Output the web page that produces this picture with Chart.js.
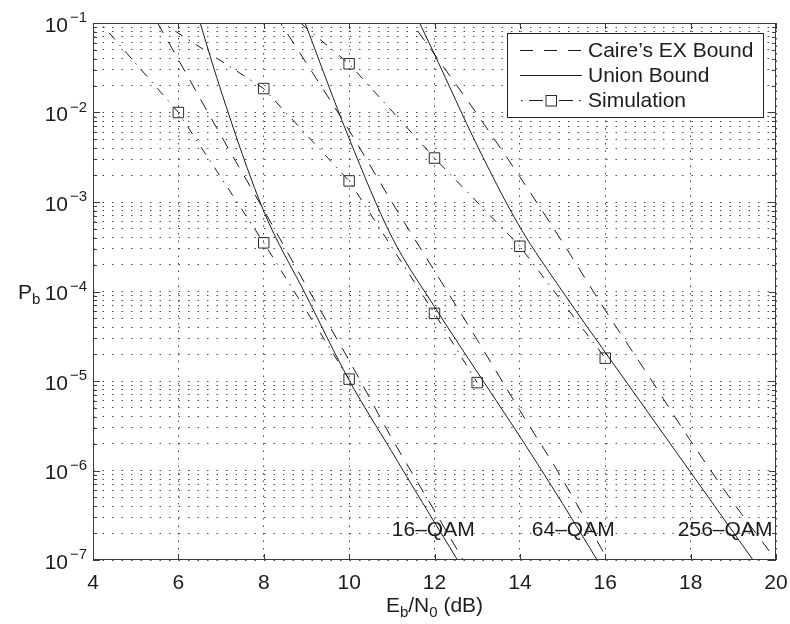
<!DOCTYPE html>
<html lang="en">
<head>
  <meta charset="UTF-8">
  <title>Pb vs Eb/N0</title>
  <script src="https://cdn.jsdelivr.net/npm/chart.js@4"></script>
  <style>
    html, body { margin: 0; padding: 0; background: #fff; overflow: hidden; }
    #wrap { width: 790px; height: 624px; }
  </style>
</head>
<body>
<div id="wrap"><canvas id="berChart"></canvas></div>
<script>
// values: Eb/N0 in dB, Pb
const snrCaire16 = [5, 6, 7, 8, 9, 10, 11, 12, 13];
const pbCaire16  = [0.269, 3.89e-2, 5.5e-3, 8.13e-4, 1.15e-4, 1.7e-5, 2.29e-6, 3.55e-7, 5.37e-8];
const snrUnion16 = [6.2, 7, 8, 9, 10, 11, 12, 13];
const pbUnion16  = [0.316, 1.74e-2, 7.9e-4, 8.9e-5, 1.02e-5, 1.62e-6, 2.63e-7, 4.4e-8];
const snrSim16   = [4, 6, 8, 10];
const pbSim16    = [0.125, 1.0e-2, 3.5e-4, 1.05e-5];

const snrCaire64 = [8, 9, 10, 11, 12, 13, 14, 15, 16, 17];
const pbCaire64  = [0.195, 3.55e-2, 6.31e-3, 1.0e-3, 1.7e-4, 2.88e-5, 4.68e-6, 7.94e-7, 1.12e-7, 1.58e-8];
const snrUnion64 = [8.5, 9, 10, 11, 12, 13, 14, 15, 16];
const pbUnion64  = [0.398, 9.12e-2, 5.13e-3, 4.07e-4, 6.76e-5, 1.26e-5, 2.4e-6, 4.27e-7, 7.08e-8];
const snrSim64   = [4, 8, 10, 12, 13];
const pbSim64    = [0.32, 1.85e-2, 1.72e-3, 5.7e-5, 9.6e-6];

const snrCaire256 = [11, 12, 13, 14, 15, 16, 17, 18, 19, 20];
const pbCaire256  = [0.204, 4.47e-2, 9.55e-3, 1.91e-3, 3.55e-4, 6.17e-5, 1.17e-5, 2.14e-6, 4.37e-7, 1.0e-7];
const snrUnion256 = [11, 12, 13, 14, 15, 16, 17, 18, 19, 20];
const pbUnion256  = [0.447, 4.47e-2, 4.27e-3, 5.25e-4, 1.0e-4, 2.09e-5, 4.47e-6, 9.55e-7, 2.04e-7, 4.37e-8];
const snrSim256   = [8, 10, 12, 14, 16];
const pbSim256    = [0.22, 3.5e-2, 3.1e-3, 3.2e-4, 1.8e-5];

const xTicks = [4, 6, 8, 10, 12, 14, 16, 18, 20];
const yDecades = [-7, -6, -5, -4, -3, -2, -1];
const legendLabels = ['Caire\u2019s EX Bound', 'Union Bound', 'Simulation'];
const qamLabels = ['16\u2013QAM', '64\u2013QAM', '256\u2013QAM'];

const FONT = '"Liberation Sans", Arial, Helvetica, sans-serif';
const INK = '#1c1c1c';
const DASH = [12, 10];
const DASHDOT = [9, 7, 1.5, 7];

const pts = (xs, ys) => xs.map((v, i) => ({ x: v, y: ys[i] }));

function bound(xs, ys, dashed) {
  return {
    data: pts(xs, ys),
    borderColor: INK,
    borderWidth: 1,
    borderDash: dashed ? DASH : [],
    pointRadius: 0,
    cubicInterpolationMode: 'monotone',
    fill: false
  };
}

function sim(xs, ys) {
  return {
    data: pts(xs, ys),
    borderColor: INK,
    borderWidth: 1,
    borderDash: DASHDOT,
    tension: 0,
    pointStyle: 'rect',
    pointRadius: 7.4,
    pointBorderWidth: 1,
    pointBorderColor: '#2a2a2a',
    pointBackgroundColor: 'rgba(0,0,0,0)',
    fill: false
  };
}

// y grid lines at 1..9 x 10^k like the matlab log axis
const yGrid = [];
yDecades.forEach(e => {
  if (e === -1) { yGrid.push(0.1); return; }
  for (let m = 1; m <= 9; m++) yGrid.push(m * Math.pow(10, e));
});

// axes box, inward ticks, superscript labels, legend and text
const figureDecor = {
  id: 'figureDecor',
  afterDatasetsDraw(chart) {
    const { ctx, chartArea: a, scales: { x, y } } = chart;
    ctx.save();
    ctx.setLineDash([]);
    ctx.strokeStyle = '#3a3a3a';
    ctx.lineWidth = 1;

    const seg = (x1, y1, x2, y2) => { ctx.beginPath(); ctx.moveTo(x1, y1); ctx.lineTo(x2, y2); ctx.stroke(); };

    ctx.strokeRect(a.left + 0.5, a.top + 0.5, a.right - a.left - 1, a.bottom - a.top - 1);

    xTicks.forEach(v => {
      const px = Math.round(x.getPixelForValue(v)) + 0.5;
      seg(px, a.bottom, px, a.bottom - 6);
      seg(px, a.top, px, a.top + 6);
    });
    y.ticks.forEach(t => {
      const py = Math.round(y.getPixelForValue(t.value)) + 0.5;
      const lg = Math.log10(t.value);
      const len = Math.abs(lg - Math.round(lg)) < 1e-6 ? 7 : 4;
      seg(a.left, py, a.left + len, py);
      seg(a.right, py, a.right - len, py);
    });

    ctx.fillStyle = INK;
    ctx.textBaseline = 'alphabetic';

    // x tick labels
    ctx.font = '21px ' + FONT;
    ctx.textAlign = 'center';
    xTicks.forEach(v => ctx.fillText(String(v), x.getPixelForValue(v), a.bottom + 29));

    // y tick labels 10^k
    yDecades.forEach(e => {
      const py = y.getPixelForValue(Math.pow(10, e));
      ctx.font = '21px ' + FONT;
      ctx.textAlign = 'right';
      ctx.fillText('10', 68, py + 8.5);
      ctx.font = '15px ' + FONT;
      ctx.textAlign = 'left';
      ctx.fillText('\u2212' + (-e), 70, py - 1);
    });

    // axis titles with subscripts
    const runs = (parts, startX, base) => {
      let cx = startX;
      parts.forEach(([txt, size, dy]) => {
        ctx.font = size + 'px ' + FONT;
        ctx.fillText(txt, cx, base + dy);
        cx += ctx.measureText(txt).width;
      });
      return cx - startX;
    };
    const xTitle = [['E', 21, 0], ['b', 15, 5], ['/N', 21, 0], ['0', 15, 5], [' (dB)', 21, 0]];
    ctx.textAlign = 'left';
    let w = 0;
    xTitle.forEach(([txt, size]) => { ctx.font = size + 'px ' + FONT; w += ctx.measureText(txt).width; });
    runs(xTitle, (a.left + a.right) / 2 - w / 2, a.bottom + 52);
    runs([['P', 21, 0], ['b', 15, 5]], 18, (a.top + a.bottom) / 2 + 7);

    // modulation labels
    ctx.font = '21px ' + FONT;
    const qamX = [11.0, 14.28, 17.7];
    qamLabels.forEach((s, i) => ctx.fillText(s, x.getPixelForValue(qamX[i]), y.getPixelForValue(1.86e-7)));

    // legend
    const lx = 507.5, ly = 33.5, lw = 256, lh = 84;
    ctx.fillStyle = '#fff';
    ctx.fillRect(lx, ly, lw, lh);
    ctx.strokeStyle = '#222';
    ctx.strokeRect(lx, ly, lw, lh);
    const rows = [50.5, 75.5, 100.5];
    ctx.strokeStyle = INK;
    ctx.setLineDash([13, 11]);
    seg(520, rows[0], 582, rows[0]);
    ctx.setLineDash([]);
    seg(520, rows[1], 582, rows[1]);
    seg(529, rows[2], 543, rows[2]);
    seg(559, rows[2], 573, rows[2]);
    ctx.fillStyle = INK;
    ctx.fillRect(521, rows[2] - 0.5, 1.5, 1.2);
    ctx.fillRect(579, rows[2] - 0.5, 1.5, 1.2);
    ctx.strokeStyle = '#2a2a2a';
    ctx.strokeRect(546, rows[2] - 5, 10.5, 10.5);
    ctx.fillStyle = INK;
    ctx.font = '21px ' + FONT;
    ctx.textAlign = 'left';
    ctx.textBaseline = 'middle';
    legendLabels.forEach((s, i) => ctx.fillText(s, 588, rows[i] + 1));
    ctx.restore();
  }
};

const ctx = document.getElementById('berChart').getContext('2d');
new Chart(ctx, {
  type: 'line',
  data: {
    datasets: [
      bound(snrCaire16, pbCaire16, true),
      bound(snrUnion16, pbUnion16, false),
      sim(snrSim16, pbSim16),
      bound(snrCaire64, pbCaire64, true),
      bound(snrUnion64, pbUnion64, false),
      sim(snrSim64, pbSim64),
      bound(snrCaire256, pbCaire256, true),
      bound(snrUnion256, pbUnion256, false),
      sim(snrSim256, pbSim256)
    ]
  },
  options: {
    responsive: true,
    maintainAspectRatio: false,
    animation: false,
    layout: { padding: { left: 93, top: 23, right: 14, bottom: 64 } },
    plugins: { legend: { display: false }, tooltip: { enabled: false } },
    scales: {
      x: {
        type: 'linear',
        min: 4,
        max: 20,
        ticks: { display: false, stepSize: 2 },
        grid: { color: 'rgba(40,40,40,0.85)', lineWidth: 1, drawTicks: false },
        border: { display: false, dash: [1.5, 6] }
      },
      y: {
        type: 'logarithmic',
        min: 1e-7,
        max: 1e-1,
        ticks: { display: false },
        afterBuildTicks: scale => { scale.ticks = yGrid.map(v => ({ value: v })); },
        grid: { color: 'rgba(40,40,40,0.85)', lineWidth: 1, drawTicks: false },
        border: { display: false, dash: [1.5, 8] }
      }
    }
  },
  plugins: [figureDecor]
});
</script>
</body>
</html>
